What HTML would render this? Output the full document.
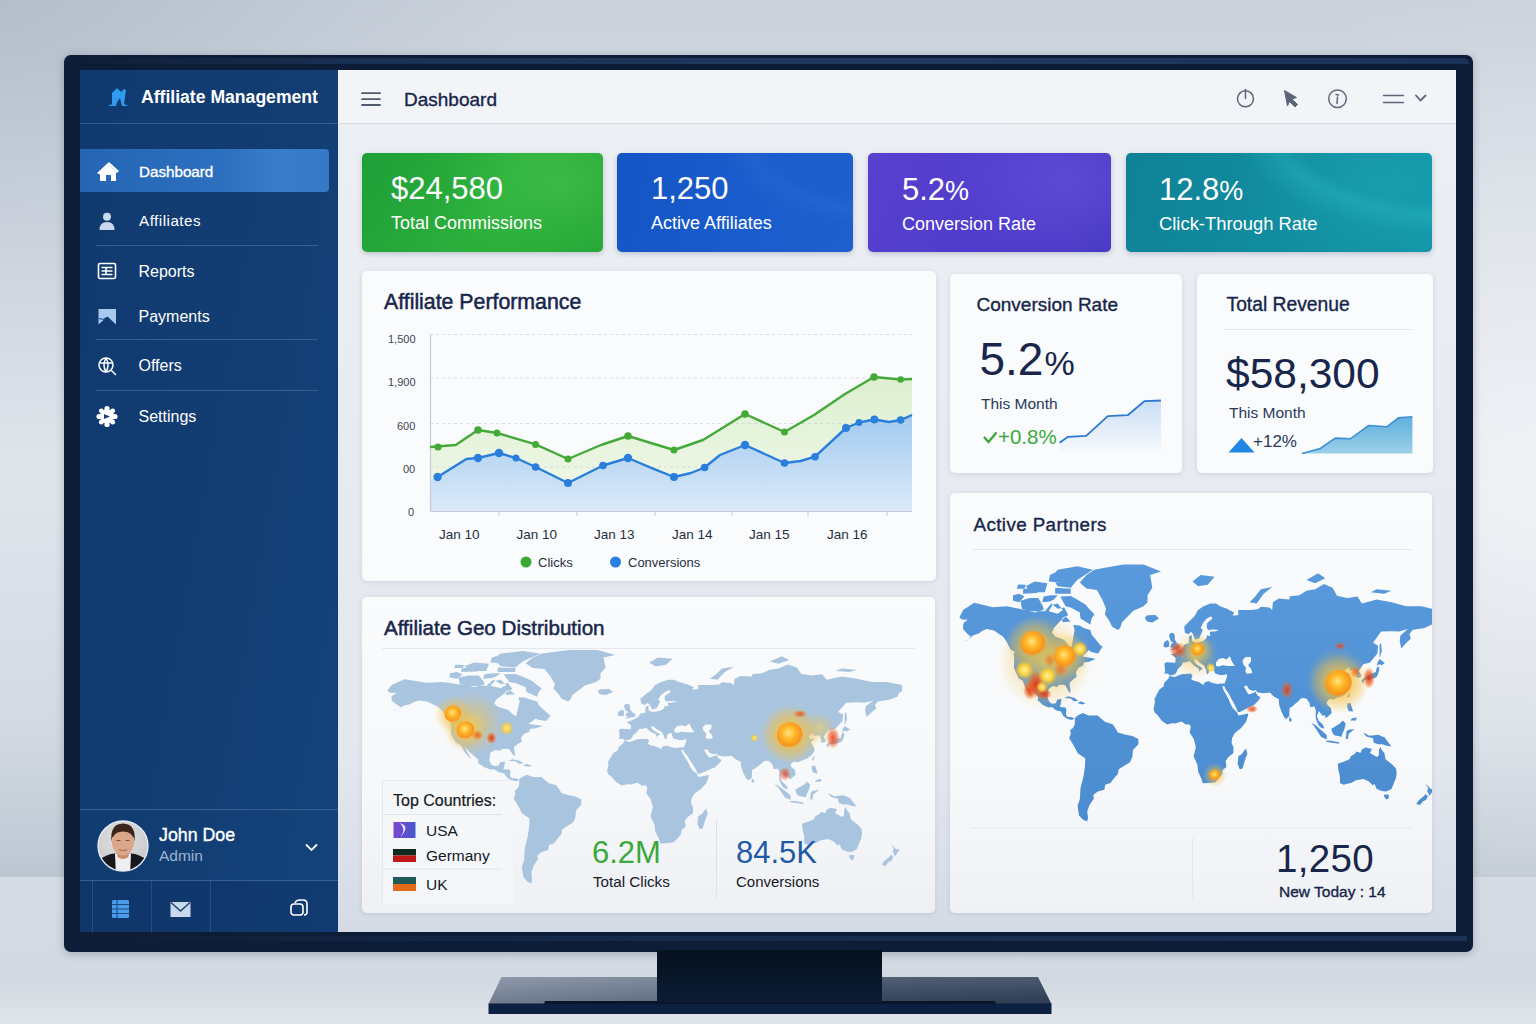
<!DOCTYPE html>
<html><head><meta charset="utf-8">
<style>
*{box-sizing:border-box;margin:0;padding:0}
html,body{width:1536px;height:1024px;overflow:hidden}
body{position:relative;font-family:"Liberation Sans",sans-serif;background-color:#e2e6ec;
background-image:radial-gradient(ellipse 520px 460px at 0 0,rgba(110,130,155,0.24),rgba(110,130,155,0)),
radial-gradient(ellipse 420px 520px at 100% 55%,rgba(255,255,255,0.5),rgba(255,255,255,0)),
linear-gradient(180deg,#c9d1db 0%,#dae0e8 35%,#e0e5ec 55%,#d3dae3 82%,#bdc7d2 100%),
linear-gradient(180deg,#d6dce4 0%,#d4dae2 50%,#d2d9e1 70%,#e0e5ea 100%);
background-size:1536px 877px,1536px 877px,1536px 877px,1536px 147px;background-position:0 0,0 0,0 0,0 877px;background-repeat:no-repeat}
.a{position:absolute}
.t{position:absolute;white-space:nowrap;line-height:1}
.w{color:#fff}
.m{-webkit-text-stroke:0.35px currentColor}
.m2{-webkit-text-stroke:0.5px currentColor}
.sep{position:absolute;height:1px;background:rgba(110,150,205,0.38)}
.card{position:absolute;background:#fafbfc;border-radius:5px;box-shadow:0 1px 5px rgba(40,60,90,0.13)}
.kpi{position:absolute;border-radius:5px;box-shadow:0 2px 5px rgba(30,50,80,0.22);overflow:hidden}
.dk{color:#17264a}
</style></head>
<body>
<!-- monitor -->
<div class="a" style="left:64px;top:55px;width:1409px;height:897px;background:#0d1d38;border-radius:7px;box-shadow:0 2px 8px rgba(20,30,50,0.25)"></div>
<div class="a" style="left:68px;top:58px;width:1401px;height:6px;background:linear-gradient(90deg,#0c1c36 0%,#1d3558 20%,#24406a 60%,#1e3760 100%);border-radius:6px 6px 0 0;opacity:.8"></div>
<div class="a" style="left:70px;top:936px;width:1397px;height:5px;background:linear-gradient(90deg,#0c1c36,#1a3152 40%,#223b62 100%);opacity:.7"></div>
<svg class="a" style="left:0;top:0" width="1536" height="1024" viewBox="0 0 1536 1024">
<defs>
<linearGradient id="baseTop" x1="0" y1="0" x2="1" y2="0"><stop offset="0" stop-color="#7f8ca0"/><stop offset="0.3" stop-color="#6d7b90"/><stop offset="0.7" stop-color="#3a4a63"/><stop offset="1" stop-color="#33435c"/></linearGradient>
<linearGradient id="baseTopV" x1="0" y1="0" x2="0" y2="1"><stop offset="0" stop-color="#fff" stop-opacity="0.12"/><stop offset="1" stop-color="#000" stop-opacity="0.12"/></linearGradient>
<linearGradient id="neck" x1="0" y1="0" x2="0" y2="1"><stop offset="0" stop-color="#06111f"/><stop offset="1" stop-color="#0b1c34"/></linearGradient>
</defs>
<path d="M501.5 977 L1038 977 L1051.5 1004 L488.5 1004 Z" fill="url(#baseTop)"/>
<path d="M501.5 977 L1038 977 L1051.5 1004 L488.5 1004 Z" fill="url(#baseTopV)"/>
<rect x="488.5" y="1003.5" width="563" height="10.5" fill="#0c2142"/>
<path d="M545 1001 H995 L996 1004 H544 Z" fill="#0a1526"/>
<rect x="657" y="950" width="225" height="52" fill="url(#neck)"/>
</svg>
<!-- screen -->
<div class="a" style="left:80px;top:70px;width:1376px;height:862px;background:linear-gradient(180deg,#eceff4 0%,#e8ebf1 40%,#e3e7ee 80%,#d4dbe5 100%)"></div>
<!-- sidebar -->
<div class="a" style="left:80px;top:70px;width:258px;height:862px;background:linear-gradient(100deg,#103a6f 0%,#123d73 50%,#13437a 100%)"></div>
<div class="sep" style="left:80px;top:123px;width:258px;background:rgba(90,130,190,0.45)"></div>
<div class="a" style="left:80px;top:149px;width:249px;height:43px;background:linear-gradient(90deg,#2565b4 0%,#2d6fbf 55%,#3a7dc9 80%,#3579c6 100%);border-radius:0 4px 4px 0"></div>
<div class="sep" style="left:96px;top:245px;width:222px"></div>
<div class="sep" style="left:96px;top:339px;width:222px"></div>
<div class="sep" style="left:96px;top:390px;width:222px"></div>
<div class="sep" style="left:80px;top:809px;width:258px"></div>
<div class="sep" style="left:80px;top:880px;width:258px"></div>
<div class="a" style="left:80px;top:881px;width:258px;height:51px;background:rgba(10,30,70,0.18)"></div>
<div class="a" style="left:92px;top:881px;width:1px;height:51px;background:rgba(110,150,205,0.25)"></div>
<div class="a" style="left:151px;top:881px;width:1px;height:51px;background:rgba(110,150,205,0.25)"></div>
<div class="a" style="left:210px;top:881px;width:1px;height:51px;background:rgba(110,150,205,0.25)"></div>

<!-- header -->
<div class="a" style="left:338px;top:70px;width:1118px;height:54px;background:#f3f4f8;border-bottom:1px solid #d5dae2"></div>

<!-- KPI cards -->
<div class="kpi" style="left:362px;top:153px;width:241px;height:99px;background:radial-gradient(ellipse 120px 90px at 200px 30px,rgba(90,210,90,0.35),rgba(0,0,0,0)),linear-gradient(120deg,#1f9f38 0%,#2cb03c 55%,#23a535 100%)"></div>
<div class="kpi" style="left:617px;top:153px;width:236px;height:99px;background:radial-gradient(ellipse 200px 120px at 260px -20px,rgba(0,0,0,0) 55%,rgba(90,150,240,0.1) 65%,rgba(0,0,0,0) 78%),linear-gradient(100deg,#1555c5 0%,#1a5ccc 55%,#1c60cd 100%)"></div>
<div class="kpi" style="left:868px;top:153px;width:243px;height:99px;background:radial-gradient(ellipse 120px 90px at 200px 30px,rgba(130,110,240,0.3),rgba(0,0,0,0)),linear-gradient(120deg,#5940cf 0%,#4f3ccc 55%,#4637c2 100%)"></div>
<div class="kpi" style="left:1126px;top:153px;width:306px;height:99px;background:radial-gradient(ellipse 300px 150px at 330px -30px,rgba(0,0,0,0) 0%,rgba(0,0,0,0) 55%,rgba(60,210,215,0.2) 62%,rgba(0,0,0,0) 75%),radial-gradient(ellipse 140px 90px at 250px 30px,rgba(40,190,200,0.25),rgba(0,0,0,0)),linear-gradient(100deg,#0f8296 0%,#118c9f 50%,#1396a7 100%)"></div>

<!-- cards -->
<div class="card" style="left:362px;top:271px;width:574px;height:310px"></div>
<div class="card" style="left:950px;top:274px;width:232px;height:199px"></div>
<div class="card" style="left:1197px;top:274px;width:236px;height:199px"></div>
<div class="card" style="left:362px;top:597px;width:573px;height:316px;background:linear-gradient(180deg,#fafbfc 0%,#f7f8fa 60%,#eef0f4 100%)"></div>
<div class="card" style="left:950px;top:493px;width:482px;height:420px;background:linear-gradient(180deg,#fafbfc 0%,#f8f9fb 65%,#eff1f5 100%)"></div>

<svg class="a" style="left:0;top:0" width="1536" height="1024" viewBox="0 0 1536 1024">
<defs>
  <linearGradient id="gBlueArea" x1="0" y1="0" x2="0" y2="1"><stop offset="0" stop-color="#a2caf1"/><stop offset="1" stop-color="#dbeaf9"/></linearGradient>
  <linearGradient id="gGreenArea" x1="0" y1="0" x2="0" y2="1"><stop offset="0" stop-color="#dcefcf"/><stop offset="1" stop-color="#eef7e6"/></linearGradient>
  <linearGradient id="gSpark1" x1="0" y1="0" x2="0" y2="1"><stop offset="0" stop-color="#c9def5"/><stop offset="1" stop-color="#f6f9fd"/></linearGradient>
  <linearGradient id="gSpark2" x1="0" y1="0" x2="0" y2="1"><stop offset="0" stop-color="#5fb0dc"/><stop offset="1" stop-color="#9bd0e8"/></linearGradient>
  <radialGradient id="hot" cx="0.5" cy="0.5" r="0.5"><stop offset="0" stop-color="#ffe36a"/><stop offset="0.45" stop-color="#ffae1f"/><stop offset="0.8" stop-color="#f5820f"/><stop offset="1" stop-color="#f07010" stop-opacity="0"/></radialGradient>
  <radialGradient id="glow" cx="0.5" cy="0.5" r="0.5"><stop offset="0" stop-color="#ffd84a" stop-opacity="0.85"/><stop offset="0.5" stop-color="#f5c040" stop-opacity="0.45"/><stop offset="1" stop-color="#f0c040" stop-opacity="0"/></radialGradient>
  <radialGradient id="redglow" cx="0.5" cy="0.5" r="0.5"><stop offset="0" stop-color="#e42c14" stop-opacity="1"/><stop offset="0.55" stop-color="#ee5a1e" stop-opacity="0.75"/><stop offset="1" stop-color="#f07020" stop-opacity="0"/></radialGradient>
  <radialGradient id="ball" cx="0.45" cy="0.42" r="0.55"><stop offset="0" stop-color="#ffe680"/><stop offset="0.45" stop-color="#ffb728"/><stop offset="0.9" stop-color="#f7921a"/><stop offset="1" stop-color="#f59020" stop-opacity="0.2"/></radialGradient>
  <radialGradient id="yel" cx="0.5" cy="0.5" r="0.5"><stop offset="0" stop-color="#fff2a0"/><stop offset="0.5" stop-color="#ffd23a"/><stop offset="1" stop-color="#f5c030" stop-opacity="0"/></radialGradient>
  <radialGradient id="avBg" cx="0.45" cy="0.35" r="0.7"><stop offset="0" stop-color="#e2e2e4"/><stop offset="1" stop-color="#c6c6c9"/></radialGradient>
  <clipPath id="avClip"><circle cx="123" cy="846" r="25"/></clipPath>
  <filter id="soft" x="-2%" y="-2%" width="104%" height="104%"><feGaussianBlur stdDeviation="0.45"/></filter>
  <clipPath id="pClip"><rect x="951" y="551" width="481" height="276"/></clipPath><clipPath id="gClip"><rect x="363" y="650" width="571" height="262"/></clipPath>
  <linearGradient id="pLand" x1="0" y1="0" x2="0" y2="1" gradientUnits="objectBoundingBox"><stop offset="0" stop-color="#5a9adc"/><stop offset="0.5" stop-color="#5192d6"/><stop offset="1" stop-color="#4c8ccf"/></linearGradient>
</defs>

<!-- ===== sidebar icons ===== -->
<!-- logo -->
<g fill="#2f9bf0">
  <path d="M112 93 L117 88 L121 92 L124 89 L126 90 L124 104 L128 106 L122 106 L120 98 L117 102 L116 106 L108 106 L112 104 Z"/>
</g>
<!-- house -->
<g fill="#fff">
  <path d="M97 173 L109 162 L119 171 L117 173 L109 165.5 L99.5 174.5 Z"/>
  <path d="M100 173 L109 165.5 L116 172 L116 181 L111 181 L111 175 L106 175 L106 181 L100 181 Z"/>
</g>
<!-- person -->
<g fill="#c9d8ee"><circle cx="107" cy="216.8" r="4"/><path d="M99.5 230 Q99.5 222 107 222 Q114.5 222 114.5 230 Z"/></g>
<!-- reports -->
<g fill="none" stroke="#fff" stroke-width="1.6">
  <rect x="98.5" y="263.5" width="17" height="15" rx="1.5"/>
  <path d="M101.5 267.5 H112.5 M101.5 271 H112.5 M101.5 274.5 H112.5 M106 267.5 V274.5"/>
</g>
<!-- payments -->
<g fill="#a9c9ee"><path d="M98.5 309 H116 V324.5 L107.5 316.5 L98.5 324.5 Z"/></g><path d="M99 318.5 Q103 321 106.5 317.5" fill="none" stroke="#123d73" stroke-width="1"/>
<!-- offers globe -->
<g fill="none" stroke="#fff" stroke-width="1.5">
  <circle cx="106" cy="365" r="7"/><path d="M99.5 363 H112.5 M106 358 Q102 365 106 372 M106 358 Q110 365 106 372"/><path d="M111 370 L116 375"/>
</g>
<!-- settings gear -->
<g fill="#fff">
  <circle cx="107" cy="416.5" r="7.2"/>
  <circle cx="107" cy="408.5" r="2.6"/><circle cx="107" cy="424.5" r="2.6"/><circle cx="99" cy="416.5" r="2.6"/><circle cx="115" cy="416.5" r="2.6"/>
  <circle cx="101.3" cy="410.8" r="2.4"/><circle cx="112.7" cy="410.8" r="2.4"/><circle cx="101.3" cy="422.2" r="2.4"/><circle cx="112.7" cy="422.2" r="2.4"/>
  <path d="M104 414 L110 416.5 L104 419 Z" fill="#164381"/>
</g>
<!-- avatar -->
<g clip-path="url(#avClip)">
  <rect x="98" y="821" width="50" height="50" fill="url(#avBg)"/>
  <path d="M97 876 L100 860 Q106 854 115 853.5 L131 853.5 Q140 854 146 860 L150 876 Z" fill="#17181c"/>
  <path d="M115 853.5 L131 853.5 L130 876 L116 876 Z" fill="#eeeff2"/>
  <path d="M117 848 L129 848 L128.5 857 Q123 861 117.5 857 Z" fill="#c98e70"/>
  <ellipse cx="123" cy="842" rx="11" ry="13.5" fill="#dca68a"/>
  <path d="M111.5 842 Q109.5 824 123 823.5 Q136.5 824 134.5 842 Q134 832 123 831.5 Q112 832 111.5 842 Z" fill="#3b2619"/>
  <path d="M116.5 840.5 H120.5 M125.5 840.5 H129.5" stroke="#7a5040" stroke-width="1.2"/>
  <path d="M119 849.5 Q123 851.5 127 849.5" stroke="#a86a55" stroke-width="1.2" fill="none"/>
</g>
<circle cx="123" cy="846" r="25" fill="none" stroke="#e6edf6" stroke-width="1.3"/>
<path d="M306 844.5 L311.5 850 L317 844.5" fill="none" stroke="#fff" stroke-width="1.8"/>
<!-- footer icons -->
<g fill="#4b9de9"><rect x="112" y="900" width="17" height="18" rx="1.5"/></g>
<path d="M112 904.5 H129 M112 909 H129 M112 913.5 H129 M117 900 V918" stroke="#1a4a8a" stroke-width="1.1"/>
<rect x="170.5" y="902" width="20" height="15" fill="#c9d9ec"/>
<path d="M171 902.5 L180.5 911 L190 902.5" fill="none" stroke="#1f3f6f" stroke-width="1.4"/>
<g fill="none" stroke="#fff" stroke-width="1.6"><rect x="291" y="904" width="12" height="11" rx="3"/><path d="M295 903 Q296 900 300 900 L303 900 Q307 900 307 904 L307 912 Q307 915 304 915"/></g>

<!-- ===== header icons ===== -->
<g fill="none" stroke="#4f5a6e" stroke-width="1.8" stroke-linecap="round">
  <path d="M362 93.2 H380 M362 99.1 H380 M362 105 H380"/>
</g>
<g fill="none" stroke="#5d6679" stroke-width="1.5" stroke-linecap="round">
  <circle cx="1245.5" cy="98.8" r="8"/><path d="M1245.5 89.5 V98.5"/>
  <circle cx="1337.5" cy="98.8" r="8.8"/><path d="M1336 94.5 L1338.5 95 M1337.5 97 L1337 103.5"/>
  <path d="M1383.5 95.5 H1403.5 M1383.5 102.5 H1403.5"/>
  <path d="M1416 95.5 L1420.5 100.5 L1425.5 95.5" stroke-width="1.8"/>
</g>
<path d="M1284.5 90.5 L1296.5 97.5 L1292 99 L1297.5 104.5 L1295 107 L1289.5 101.5 L1287.5 106 Z" fill="#5d6679" stroke="#5d6679" stroke-width="1" stroke-linejoin="round"/>

<!-- ===== chart ===== -->
<g>
  <path d="M430 447 L455.7 445 L478 430 L497 433 L535.6 444.4 L568 459 L601 445 L628 436 L674 450 L703 440 L745 414 L784.5 432 L814 415 L845 394 L874 377 L900.6 379.5 L912 379 L912 415 L900.6 420 L889 422 L874.4 419.5 L859 422.5 L846 428 L815 456.7 L800.6 461 L784.5 463 L745 445 L720 455 L704.6 467.5 L691 473 L674 477 L653 468.6 L628 458 L603 465.5 L568 483 L535.6 467 L516 458 L499 453 L478 458 L466.4 459 L437.6 477 L430 480 Z" fill="url(#gGreenArea)"/>
  <path d="M430 480 L437.6 477 L466.4 459 L478 458 L499 453 L516 458 L535.6 467 L568 483 L603 465.5 L628 458 L653 468.6 L674 477 L691 473 L704.6 467.5 L720 455 L745 445 L784.5 463 L800.6 461 L815 456.7 L846 428 L859 422.5 L874.4 419.5 L889 422 L900.6 420 L912 415 L912 511.5 L430 511.5 Z" fill="url(#gBlueArea)"/>
  <path d="M430 334.5 H912 M430 378 H912 M430 423.5 H912 M430 467 H912" stroke="#c9d0da" stroke-opacity="0.7" stroke-width="1" stroke-dasharray="3 3"/>
  <path d="M430.5 334 V511.5 H912" fill="none" stroke="#c5ccd6" stroke-width="1.2"/>
  <path d="M499 512 V516 M577 512 V516 M655 512 V516 M732 512 V516 M808 512 V516 M887 512 V516" stroke="#c5ccd6" stroke-width="1"/>
  <path d="M430 447 L455.7 445 L478 430 L497 433 L535.6 444.4 L568 459 L601 445 L628 436 L674 450 L703 440 L745 414 L784.5 432 L814 415 L845 394 L874 377 L900.6 379.5 L912 379" fill="none" stroke="#45a93a" stroke-width="2.4" stroke-linejoin="round"/>
  <path d="M437.6 477 L466.4 459 L478 458 L499 453 L516 458 L535.6 467 L568 483 L603 465.5 L628 458 L653 468.6 L674 477 L691 473 L704.6 467.5 L720 455 L745 445 L784.5 463 L800.6 461 L815 456.7 L846 428 L859 422.5 L874.4 419.5 L889 422 L900.6 420 L912 415" fill="none" stroke="#2a7fdc" stroke-width="2.4" stroke-linejoin="round"/>
  <g fill="#45a93a"><circle cx="438" cy="447" r="3.6"/><circle cx="478" cy="430" r="3.8"/><circle cx="497" cy="433" r="3.5"/><circle cx="535.6" cy="444.4" r="3.5"/><circle cx="568" cy="459" r="3.5"/><circle cx="628" cy="436" r="3.8"/><circle cx="674" cy="450" r="3.5"/><circle cx="745" cy="414" r="3.8"/><circle cx="784.5" cy="432" r="3.5"/><circle cx="874" cy="377" r="3.8"/><circle cx="900.6" cy="379.5" r="3.3"/></g>
  <g fill="#2a7fdc"><circle cx="437.6" cy="477" r="4.2"/><circle cx="478" cy="458" r="4.2"/><circle cx="499" cy="453" r="4.3"/><circle cx="516" cy="458" r="3.5"/><circle cx="535.6" cy="467" r="3.8"/><circle cx="568" cy="483" r="4"/><circle cx="603" cy="465.5" r="3.8"/><circle cx="628" cy="458" r="4.2"/><circle cx="674" cy="477" r="4"/><circle cx="704.6" cy="467.5" r="3.8"/><circle cx="745" cy="445" r="4.2"/><circle cx="784.5" cy="463" r="3.8"/><circle cx="815" cy="456.7" r="3.8"/><circle cx="846" cy="428" r="4"/><circle cx="859" cy="422.5" r="3.4"/><circle cx="874.4" cy="419.5" r="4"/><circle cx="900.6" cy="420" r="3.8"/></g>
  <circle cx="526" cy="562" r="5.5" fill="#3aaa35"/><circle cx="615.5" cy="562" r="5.5" fill="#2a7fe0"/>
</g>

<!-- ===== small cards ===== -->
<path d="M1224 329.5 H1412" stroke="#e3e7ee" stroke-width="1"/>
<path d="M1059.6 442.7 L1067.9 436.8 L1086.2 435.8 L1107.8 416.2 L1127.7 415.2 L1144.3 401.2 L1160.9 400.5 L1160.9 452 L1059.6 452 Z" fill="url(#gSpark1)"/>
<path d="M1059.6 442.7 L1067.9 436.8 L1086.2 435.8 L1107.8 416.2 L1127.7 415.2 L1144.3 401.2 L1160.9 400.5" fill="none" stroke="#2f78d2" stroke-width="1.8" stroke-linejoin="round"/>
<path d="M984 437 L988.5 442 L996.5 432.5" fill="none" stroke="#3aa83a" stroke-width="2.4"/>
<path d="M1302 453.4 L1320.4 448.4 L1335.3 438.1 L1350.3 438.8 L1368.6 425.5 L1386.8 426.8 L1398.5 417.8 L1412.4 416.8 L1412.4 453.5 Z" fill="url(#gSpark2)"/>
<path d="M1302 453.4 L1320.4 448.4 L1335.3 438.1 L1350.3 438.8 L1368.6 425.5 L1386.8 426.8 L1398.5 417.8 L1412.4 416.8" fill="none" stroke="#3a8fd5" stroke-width="1.6"/>
<path d="M1228.5 452.5 L1254.5 452.5 L1241.5 438 Z" fill="#1f86e6"/>

<!-- ===== partners map ===== -->
<path d="M973 549.5 H1412 M970 828 H1412" stroke="#e3e7ee" stroke-width="1"/>
<path d="M1192.5 838 V900" stroke="#e3e7ee" stroke-width="1"/>
<g clip-path="url(#pClip)"><path fill="url(#pLand)" filter="url(#soft)" d="M959.4,617.5 963.1,610.0 974.2,602.7 992.9,607.2 1006.7,606.2 1019.3,608.8 1032.0,611.3 1044.9,611.3 1051.3,603.5 1057.7,608.8 1064.2,607.5 1068.1,615.0 1060.3,621.0 1053.9,627.9 1051.9,632.7 1055.2,636.5 1064.2,640.0 1068.1,644.9 1071.4,647.6 1072.7,640.6 1074.6,630.1 1073.3,624.9 1079.8,625.6 1083.8,627.9 1090.3,630.1 1091.6,634.4 1094.9,638.6 1100.8,645.7 1102.6,646.6 1098.2,653.4 1091.0,651.9 1089.0,650.1 1082.4,656.5 1091.6,658.0 1095.6,658.9 1089.0,661.7 1083.8,662.6 1083.1,665.6 1078.5,667.8 1075.9,672.1 1076.6,676.9 1073.3,679.2 1069.4,683.0 1070.4,690.2 1070.1,693.0 1068.4,691.0 1067.1,688.6 1065.5,685.4 1062.9,684.7 1058.4,685.1 1057.7,687.0 1052.6,686.0 1048.3,689.4 1048.1,694.1 1047.7,698.0 1049.4,702.1 1051.9,703.8 1055.8,703.3 1057.2,699.5 1061.6,698.7 1060.8,704.1 1059.9,707.1 1065.5,707.4 1066.4,709.4 1065.9,714.6 1067.5,716.9 1071.4,716.9 1074.1,718.2 1072.7,719.8 1070.1,719.8 1066.8,718.6 1063.3,716.1 1061.0,711.6 1055.9,710.3 1051.9,707.1 1048.7,707.4 1042.9,704.9 1037.8,700.3 1038.1,696.7 1034.0,692.5 1029.2,687.0 1026.1,683.0 1028.9,689.4 1032.0,696.4 1029.5,693.6 1026.3,688.9 1023.5,683.0 1022.9,681.0 1018.6,678.0 1016.2,673.0 1014.0,667.8 1014.3,658.0 1013.5,653.6 1015.5,652.4 1010.5,649.6 1006.7,641.7 1002.9,636.5 997.9,633.3 994.1,630.5 986.6,629.0 981.6,631.2 979.2,633.3 973.0,635.4 966.8,640.6 963.7,641.7 971.7,637.5 966.8,633.3 963.1,629.0 963.1,624.5 964.3,622.2 968.0,619.8 961.9,619.6ZM1023.1,593.8 1037.2,592.9 1038.4,589.3 1029.5,587.5 1023.1,589.3ZM1042.3,602.2 1050.0,601.4 1053.9,599.4 1057.7,595.2 1051.3,595.2 1043.6,596.6ZM1048.7,581.6 1060.3,582.6 1062.9,576.7 1055.2,572.6 1050.0,575.0ZM1016.8,588.7 1024.4,588.7 1025.7,584.8 1018.1,584.4ZM1048.7,611.3 1057.7,613.8 1062.9,610.0 1057.7,603.5 1052.6,604.8ZM1091.6,618.6 1094.5,614.3 1089.0,608.8 1085.7,604.8 1077.2,599.4 1070.7,596.1 1060.3,596.6 1065.5,606.2 1070.7,607.5 1079.8,612.6 1080.5,618.6 1090.3,624.5ZM1021.9,608.8 1034.6,612.6 1043.6,610.0 1042.9,606.2 1038.4,598.0 1029.5,598.0 1020.6,600.8ZM1070.7,587.8 1077.2,580.0 1092.9,569.8 1077.2,566.2 1057.7,569.8 1051.3,576.7 1057.7,586.3ZM1013.0,600.8 1019.3,602.2 1024.4,596.6 1019.3,593.8 1013.0,595.2ZM1055.2,593.8 1070.7,593.8 1070.7,588.7 1055.2,587.8ZM1032.0,592.3 1044.9,592.3 1047.4,583.2 1034.6,581.6 1025.7,586.3ZM1062.9,622.2 1070.7,621.5 1065.5,616.2 1061.6,618.6ZM1079.8,582.6 1086.4,588.4 1096.9,589.9 1102.2,599.4 1106.1,608.8 1104.8,614.3 1109.4,621.0 1112.1,626.7 1118.1,630.1 1120.1,627.9 1122.1,622.2 1126.7,617.5 1133.4,610.8 1143.5,606.2 1147.5,602.2 1147.5,595.2 1152.3,587.8 1150.2,575.0 1161.1,571.6 1143.5,564.4 1123.4,564.4 1103.5,568.0 1094.3,569.8 1086.4,575.0ZM1144.8,617.5 1147.5,615.3 1155.6,615.0 1159.0,618.6 1152.3,622.4 1146.9,621.5ZM1164.4,673.8 1165.1,670.4 1164.4,663.4 1166.5,662.2 1175.3,662.7 1175.7,658.0 1171.2,654.3 1175.3,653.0 1179.4,650.5 1182.9,648.0 1184.2,644.7 1189.0,643.3 1189.0,636.5 1191.8,635.0 1191.8,640.6 1193.8,642.1 1196.6,642.7 1202.8,641.3 1206.3,638.6 1206.9,635.4 1210.4,635.9 1209.7,631.8 1216.0,631.2 1218.7,630.1 1213.2,629.4 1208.3,630.1 1206.8,627.9 1206.9,623.3 1212.5,618.6 1211.1,616.2 1206.9,618.6 1203.5,622.2 1200.7,627.9 1202.8,630.1 1200.0,636.5 1199.4,638.2 1195.2,639.8 1192.5,633.3 1191.1,631.8 1188.3,634.2 1184.9,632.7 1184.2,626.7 1188.3,622.2 1194.5,616.2 1198.0,610.0 1203.5,606.2 1210.4,603.5 1216.0,603.5 1220.1,606.2 1227.1,608.8 1234.1,612.6 1232.7,615.8 1238.3,615.0 1238.3,610.0 1250.9,610.0 1258.0,609.3 1260.8,606.7 1269.3,607.5 1272.2,610.0 1272.9,602.2 1278.6,598.6 1289.3,599.4 1290.0,596.3 1299.3,595.2 1306.5,590.8 1315.2,589.3 1323.9,584.1 1332.6,587.8 1337.0,595.8 1347.2,598.0 1357.5,596.6 1361.9,603.5 1376.7,599.4 1391.5,602.2 1406.4,606.2 1421.4,606.2 1436.5,610.0 1436.5,617.5 1433.5,619.8 1432.0,624.5 1424.4,627.9 1412.4,630.1 1409.4,634.4 1410.9,638.6 1406.4,642.7 1401.2,648.6 1399.7,640.6 1400.4,635.4 1407.9,629.0 1399.0,631.6 1391.5,631.2 1381.1,631.6 1373.0,642.7 1378.1,645.7 1377.4,653.4 1370.0,662.6 1363.4,664.2 1361.2,667.3 1358.9,671.3 1361.2,675.5 1360.4,677.2 1356.7,678.0 1356.3,673.8 1354.5,669.6 1349.4,670.4 1349.4,667.3 1344.3,670.4 1345.7,673.8 1350.9,673.2 1347.9,675.5 1346.5,678.0 1348.7,682.1 1350.1,685.4 1349.4,688.6 1346.5,692.5 1342.8,695.7 1338.4,697.5 1333.3,699.5 1329.7,698.7 1327.5,701.0 1326.5,702.6 1327.5,704.9 1330.9,707.9 1331.6,713.1 1327.5,716.9 1325.3,718.0 1325.3,715.4 1322.4,715.4 1318.8,710.9 1318.1,713.1 1316.9,716.1 1318.5,720.6 1323.2,725.0 1324.2,728.7 1320.3,727.2 1318.5,725.0 1315.9,719.1 1315.6,714.6 1315.9,710.9 1314.6,706.4 1310.1,707.1 1309.4,702.6 1306.5,698.7 1303.6,698.0 1300.8,698.6 1298.6,701.0 1295.0,704.1 1292.2,706.4 1289.6,707.9 1289.3,716.1 1286.4,718.9 1284.3,717.6 1281.4,711.6 1279.3,705.6 1278.7,699.1 1275.0,697.2 1272.9,695.7 1270.0,692.5 1263.0,693.2 1257.3,692.2 1255.9,690.2 1252.4,690.8 1248.8,688.9 1246.7,685.4 1243.9,686.2 1246.7,691.7 1248.8,694.6 1254.5,692.5 1255.6,691.4 1257.3,695.2 1260.5,697.2 1258.7,700.3 1253.8,705.3 1249.5,707.1 1243.9,710.1 1239.7,711.9 1237.6,712.1 1236.6,708.6 1232.7,701.0 1231.3,698.7 1228.5,693.3 1225.1,688.4 1224.6,683.4 1225.7,680.5 1227.1,676.4 1227.1,674.2 1221.5,675.2 1218.0,674.4 1215.0,673.3 1213.6,669.6 1213.9,667.8 1213.2,667.3 1210.4,667.5 1209.0,669.6 1208.7,673.0 1206.9,674.2 1206.3,670.4 1204.2,665.7 1199.4,662.6 1196.2,659.3 1194.3,659.1 1194.5,661.7 1196.6,664.3 1199.4,666.3 1202.8,668.5 1200.0,670.4 1199.4,672.1 1198.9,668.7 1196.6,667.3 1193.8,665.6 1191.8,663.4 1189.7,660.9 1187.0,662.2 1182.9,662.6 1181.8,665.2 1177.4,669.6 1176.7,672.1 1174.7,674.4 1169.9,675.5 1167.8,673.5ZM1169.5,675.9 1174.7,677.0 1181.5,674.2 1191.1,673.5 1192.5,676.4 1191.1,678.9 1193.2,680.5 1198.7,682.1 1203.5,684.9 1204.9,682.1 1209.0,681.2 1211.8,682.8 1217.3,683.9 1221.5,683.4 1224.6,683.4 1225.0,687.0 1222.2,685.7 1223.6,690.2 1226.4,694.9 1228.8,699.5 1230.6,704.1 1232.7,707.9 1237.2,712.4 1238.3,715.4 1248.1,713.4 1248.1,715.5 1246.0,722.0 1241.1,727.9 1234.8,733.1 1232.0,738.3 1231.6,742.7 1233.4,747.2 1233.4,753.1 1228.5,756.9 1225.7,760.7 1226.4,766.9 1222.6,770.1 1222.2,774.0 1218.7,778.6 1215.3,782.2 1208.3,783.0 1202.8,783.3 1201.8,779.7 1198.2,771.7 1197.3,764.6 1193.6,756.2 1195.9,747.2 1193.8,739.0 1189.7,732.4 1190.8,726.5 1189.0,724.2 1185.6,724.5 1181.5,721.6 1175.3,723.5 1171.9,723.2 1167.2,724.4 1161.7,720.7 1159.0,716.9 1157.0,714.6 1154.6,712.4 1153.6,709.1 1155.0,701.8 1154.3,699.5 1157.0,694.1 1159.4,689.4 1163.8,686.2 1164.0,683.0 1168.1,678.9ZM1246.0,748.6 1247.4,753.9 1246.0,756.9 1243.9,763.8 1242.5,768.5 1239.7,769.3 1237.6,763.8 1238.3,756.2 1241.8,753.9 1243.9,750.9ZM1169.6,650.5 1179.3,648.2 1179.7,645.3 1177.4,643.7 1175.3,640.6 1174.7,638.6 1174.9,635.4 1173.3,633.1 1170.6,633.1 1168.9,635.4 1169.9,638.6 1170.6,641.0 1173.3,642.7 1171.2,644.1 1170.3,647.2 1173.3,647.8ZM1169.2,646.6 1169.2,641.7 1167.2,640.0 1163.8,642.7 1163.5,647.0 1166.5,647.6ZM1363.1,683.8 1364.1,679.7 1369.3,679.7 1376.4,677.2 1377.8,674.7 1379.3,669.6 1378.6,666.3 1376.7,667.8 1375.9,672.1 1371.5,673.8 1366.3,676.4 1363.2,678.9 1361.4,680.2ZM1376.7,666.1 1378.9,664.3 1381.8,665.2 1384.8,662.9 1379.6,658.9 1377.4,662.9ZM1289.3,716.4 1291.9,719.8 1290.7,722.0 1289.0,720.6ZM1347.5,696.4 1348.7,698.1 1350.1,693.3 1349.4,692.8ZM1347.2,703.3 1350.6,703.3 1353.1,711.6 1348.7,710.9 1347.2,707.1ZM1350.1,720.6 1356.0,720.6 1356.7,717.6 1352.3,718.3ZM1311.3,722.6 1315.2,725.0 1323.9,732.4 1326.8,735.3 1326.5,739.4 1321.0,736.8 1315.9,728.7ZM1325.6,740.9 1329.7,740.5 1339.2,742.2 1339.2,743.7 1326.8,741.9ZM1331.2,728.7 1334.1,727.2 1339.9,723.5 1342.8,720.6 1345.7,723.5 1344.3,729.4 1342.1,734.6 1341.4,736.8 1334.1,735.3 1332.6,733.1ZM1345.7,739.0 1347.9,739.0 1348.7,733.8 1354.5,729.0 1347.9,730.1 1346.5,731.6ZM1363.4,732.4 1369.3,735.7 1378.1,734.7 1384.8,737.5 1388.5,742.7 1391.5,746.4 1387.0,745.7 1381.8,744.2 1378.1,744.2 1373.7,742.7 1373.0,738.3 1367.0,736.8 1364.8,735.0ZM1337.7,763.8 1338.4,770.1 1339.9,776.5 1339.9,783.0 1343.5,784.7 1351.6,782.7 1356.0,780.2 1363.4,778.9 1368.5,781.3 1373.0,785.5 1374.4,783.8 1376.7,788.9 1381.8,791.1 1386.3,791.5 1391.5,788.9 1396.0,778.1 1396.7,773.2 1396.0,768.5 1392.2,764.6 1385.6,759.2 1384.4,753.1 1381.8,750.1 1380.4,746.9 1378.9,750.1 1378.9,755.4 1376.7,756.9 1373.0,754.7 1370.0,753.1 1371.9,748.9 1365.6,747.6 1361.9,749.4 1360.4,753.1 1356.7,751.6 1354.5,753.9 1350.9,756.2 1349.4,759.2 1344.3,761.5 1338.4,763.5ZM1384.1,794.6 1389.0,794.8 1388.5,798.5 1386.3,799.6 1384.1,796.7ZM1425.5,783.8 1428.2,786.3 1430.5,788.9 1434.3,789.2 1432.0,792.3 1429.0,795.8 1428.2,792.8 1427.2,791.8 1428.2,788.0ZM1425.5,794.1 1427.9,796.2 1426.0,799.9 1422.9,801.2 1419.9,805.0 1416.2,803.9 1418.9,800.3 1423.7,796.3ZM1064.2,698.1 1068.1,696.3 1074.6,698.0 1078.3,700.7 1074.0,701.2 1070.7,698.6ZM1077.9,703.3 1080.1,701.2 1085.7,703.2 1082.4,704.6ZM1249.5,602.2 1255.2,596.6 1260.8,589.3 1272.2,586.9 1263.7,593.8 1256.6,603.5ZM1192.5,581.6 1200.7,575.0 1214.6,576.7 1207.6,584.8 1198.0,586.3ZM1379.6,658.0 1381.8,651.5 1381.1,642.7 1379.6,644.7 1379.6,654.3ZM1306.5,580.0 1318.1,573.3 1325.3,578.3 1315.2,583.2ZM1370.7,592.3 1376.7,589.3 1391.5,590.8 1384.1,593.8ZM1074.7,718.2 1077.6,715.4 1082.8,713.1 1088.7,715.4 1097.7,715.4 1100.7,718.3 1105.2,722.0 1112.7,724.2 1115.7,728.7 1117.9,732.4 1124.7,734.6 1132.3,736.0 1138.4,739.0 1138.4,744.2 1133.0,750.1 1132.3,756.9 1130.0,762.3 1124.7,765.4 1118.7,769.3 1117.9,774.0 1114.2,778.1 1110.4,783.0 1105.2,784.7 1104.4,789.7 1097.7,791.5 1093.2,794.9 1093.9,798.5 1089.5,804.9 1087.2,811.5 1088.0,817.4 1087.2,821.4 1082.8,819.4 1079.0,815.4 1077.6,805.8 1079.8,799.4 1080.5,788.0 1083.5,776.5 1085.0,766.2 1085.3,758.4 1077.6,753.1 1075.3,748.6 1071.6,741.9 1069.1,738.3 1070.9,733.8 1070.1,730.1 1072.7,728.2 1074.6,725.0 1074.9,720.6Z"/><path fill="#fafbfc" d="M1242.5,660.8 1245.3,657.1 1250.9,657.1 1250.9,661.7 1248.1,665.2 1250.9,668.7 1252.4,673.0 1246.7,673.8 1245.3,671.3 1246.0,667.8 1243.2,664.3ZM1216.0,666.1 1216.0,662.6 1218.7,658.9 1222.9,658.0 1226.4,659.5 1229.9,656.2 1232.0,661.7 1234.8,666.1 1227.1,666.1 1222.9,665.2 1218.7,666.6Z"/><circle cx="1045" cy="662" r="48" fill="url(#glow)" opacity="0.8"/><ellipse cx="1030" cy="690" rx="7" ry="10" fill="url(#redglow)" opacity="0.9"/><ellipse cx="1050" cy="660" rx="6" ry="7" fill="url(#redglow)" opacity="0.7"/><circle cx="1195" cy="655" r="24" fill="url(#glow)" opacity="0.7"/><circle cx="1338" cy="680" r="32" fill="url(#glow)" opacity="0.8"/><ellipse cx="1036" cy="684" rx="9" ry="14" fill="url(#redglow)" opacity="0.9"/><ellipse cx="1061" cy="668" rx="7" ry="9" fill="url(#redglow)" opacity="0.8"/><ellipse cx="1044" cy="694" rx="8" ry="6" fill="url(#redglow)" opacity="0.9"/><ellipse cx="1178" cy="650" rx="9" ry="8" fill="url(#redglow)" opacity="0.8"/><ellipse cx="1369" cy="678" rx="6" ry="11" fill="url(#redglow)" opacity="0.9"/><ellipse cx="1355" cy="672" rx="5" ry="6" fill="url(#redglow)" opacity="0.8"/><ellipse cx="1287" cy="690" rx="6" ry="9" fill="url(#redglow)" opacity="0.8"/><ellipse cx="1252" cy="709" rx="6" ry="4" fill="url(#redglow)" opacity="0.8"/><ellipse cx="1340" cy="646" rx="6" ry="4" fill="url(#redglow)" opacity="0.7"/><circle cx="1033" cy="643.6" r="27.5" fill="url(#glow)"/><circle cx="1033" cy="643.6" r="12.5" fill="url(#ball)"/><circle cx="1065" cy="656.5" r="24.2" fill="url(#glow)"/><circle cx="1065" cy="656.5" r="11" fill="url(#ball)"/><circle cx="1080" cy="649" r="8" fill="url(#yel)" opacity="1"/><circle cx="1024.3" cy="670" r="9.5" fill="url(#yel)" opacity="1"/><circle cx="1047.6" cy="675.8" r="9.5" fill="url(#yel)" opacity="1"/><circle cx="1042" cy="687" r="6" fill="url(#yel)" opacity="0.9"/><circle cx="1197.8" cy="649.6" r="14.3" fill="url(#glow)"/><circle cx="1197.8" cy="649.6" r="6.5" fill="url(#ball)"/><circle cx="1210.7" cy="667.6" r="5" fill="url(#yel)" opacity="0.9"/><circle cx="1338.8" cy="683.5" r="29.7" fill="url(#glow)"/><circle cx="1338.8" cy="683.5" r="13.5" fill="url(#ball)"/><circle cx="1215" cy="775" r="12.1" fill="url(#glow)"/><circle cx="1215" cy="775" r="5.5" fill="url(#ball)"/></g>

<!-- ===== geo map ===== -->
<path d="M382 648.5 H915" stroke="#e3e7ee" stroke-width="1"/>
<g clip-path="url(#gClip)"><path fill="#a9c4df" filter="url(#soft)" d="M387.2,691.0 391.6,685.0 404.6,679.2 426.4,682.7 442.4,681.9 456.9,684.0 471.5,686.0 486.1,686.0 493.4,679.8 500.7,684.0 508.0,683.0 512.4,689.1 503.6,693.9 496.3,699.6 494.1,703.6 497.7,706.8 508.0,709.8 512.4,713.9 516.0,716.2 517.5,710.3 519.7,701.4 518.2,697.2 525.5,697.7 529.9,699.6 537.3,701.4 538.7,705.0 542.4,708.6 549.0,714.5 550.9,715.4 546.1,721.1 538.0,719.8 535.8,718.4 528.5,723.9 538.7,725.2 543.1,725.9 535.8,728.3 529.9,729.1 529.2,731.7 524.1,733.7 521.1,737.5 521.9,741.7 518.2,743.8 513.8,747.1 515.0,753.7 514.6,756.2 512.7,754.4 511.2,752.2 509.4,749.3 506.5,748.7 501.4,749.0 500.7,750.8 494.8,749.9 490.0,752.9 489.7,757.2 489.3,760.8 491.2,764.6 494.1,766.1 498.5,765.7 500.1,762.2 505.0,761.5 504.2,766.4 503.1,769.2 509.4,769.5 510.5,771.3 509.9,776.2 511.6,778.3 516.0,778.3 519.1,779.5 517.5,781.1 514.6,781.1 510.9,780.0 506.9,777.6 504.3,773.4 498.6,772.1 494.1,769.2 490.4,769.5 483.9,767.1 478.0,762.9 478.3,759.6 473.7,755.8 468.3,750.8 464.6,747.1 467.8,752.9 471.5,759.4 468.6,756.8 464.9,752.5 461.7,747.1 461.0,745.4 456.0,742.7 453.3,738.3 450.8,733.7 451.1,725.2 450.2,721.3 452.5,720.3 446.7,717.9 442.4,711.1 438.0,706.8 432.2,704.1 427.8,701.8 419.1,700.5 413.3,702.3 410.4,704.1 403.2,705.9 395.9,710.3 392.3,711.1 401.7,707.7 395.9,704.1 391.6,700.5 391.6,696.8 393.0,694.9 397.4,693.0 390.1,692.8ZM461.3,672.1 477.3,671.4 478.8,668.6 468.6,667.2 461.3,668.6ZM483.1,678.7 491.9,678.1 496.3,676.5 500.7,673.2 493.4,673.2 484.6,674.3ZM490.4,662.6 503.6,663.3 506.5,658.8 497.7,655.7 491.9,657.6ZM454.0,668.1 462.7,668.1 464.2,665.1 455.5,664.8ZM490.4,686.0 500.7,688.1 506.5,685.0 500.7,679.8 494.8,680.9ZM538.7,692.0 541.9,688.5 535.8,684.0 532.1,680.9 522.6,676.5 515.3,673.9 503.6,674.3 509.4,681.9 515.3,683.0 525.5,687.1 526.3,692.0 537.3,696.8ZM459.8,684.0 474.4,687.1 484.6,685.0 483.9,681.9 478.8,675.4 468.6,675.4 458.4,677.6ZM515.3,667.4 522.6,661.4 540.2,653.6 522.6,650.9 500.7,653.6 493.4,658.8 500.7,666.3ZM449.6,677.6 456.9,678.7 462.7,674.3 456.9,672.1 449.6,673.2ZM497.7,672.1 515.3,672.1 515.3,668.1 497.7,667.4ZM471.5,670.9 486.1,670.9 489.0,663.8 474.4,662.6 464.2,666.3ZM506.5,694.9 515.3,694.3 509.4,690.1 505.0,692.0ZM525.5,663.3 532.9,667.9 544.6,669.1 550.5,676.5 554.9,684.0 553.4,688.5 558.5,693.9 561.5,698.7 568.1,701.4 570.3,699.6 572.5,694.9 577.6,691.0 585.0,685.6 596.0,681.9 600.5,678.7 600.5,673.2 605.6,667.4 603.4,657.6 615.2,654.9 596.0,649.5 574.0,649.5 551.9,652.3 541.7,653.6 532.9,657.6ZM597.5,691.0 600.5,689.3 609.3,689.1 613.0,692.0 605.6,695.1 599.7,694.3ZM519.1,779.5 521.9,776.9 527.0,774.8 532.9,776.9 541.7,776.9 544.6,779.7 549.0,783.2 556.3,785.3 559.3,789.5 561.5,793.0 568.1,795.1 575.4,796.6 581.3,799.4 581.3,804.4 576.2,810.3 575.4,817.0 573.2,822.3 568.1,825.4 562.2,829.3 561.5,834.1 557.8,838.2 554.1,843.2 549.0,844.9 548.3,850.1 541.7,851.9 537.3,855.5 538.0,859.2 533.6,865.8 531.4,872.8 532.1,879.0 531.4,883.4 527.0,881.2 523.3,876.9 521.9,866.8 524.1,860.1 524.8,848.3 527.7,836.5 529.2,826.1 529.5,818.5 521.9,813.2 519.7,808.8 516.0,802.3 513.5,798.7 515.3,794.4 514.6,790.9 517.0,789.1 518.9,786.0 519.2,781.8ZM618.9,739.0 619.6,736.0 618.9,729.9 621.1,728.8 630.7,729.2 631.2,725.2 626.3,722.0 630.7,720.8 635.2,718.7 638.9,716.5 640.3,713.7 645.5,712.5 645.5,706.8 648.5,705.6 648.5,710.3 650.7,711.5 653.7,712.0 660.3,710.8 664.0,708.6 664.8,705.9 668.5,706.3 667.7,702.9 674.4,702.3 677.4,701.4 671.4,700.9 666.2,701.4 664.6,699.6 664.8,695.9 670.7,692.0 669.2,690.1 664.8,692.0 661.1,694.9 658.1,699.6 660.3,701.4 657.4,706.8 656.6,708.2 652.2,709.6 649.2,704.1 647.7,702.9 644.8,704.9 641.1,703.6 640.3,698.7 644.8,694.9 651.4,690.1 655.1,685.0 661.1,681.9 668.5,679.8 674.4,679.8 678.9,681.9 686.3,684.0 693.7,687.1 692.2,689.7 698.2,689.1 698.2,685.0 711.5,685.0 719.0,684.4 722.0,682.3 730.9,683.0 733.9,685.0 734.6,678.7 740.6,675.9 751.8,676.5 752.5,674.1 762.3,673.2 769.7,669.8 778.7,668.6 787.7,664.6 796.7,667.4 801.2,673.7 811.7,675.4 822.2,674.3 826.7,679.8 841.7,676.5 856.8,678.7 871.9,681.9 886.9,681.9 902.1,685.0 902.1,691.0 899.0,693.0 897.5,696.8 890.0,699.6 877.9,701.4 874.9,705.0 876.4,708.6 871.9,712.0 866.6,717.0 865.1,710.3 865.8,705.9 873.4,700.5 864.3,702.7 856.8,702.3 846.2,702.7 838.0,712.0 843.2,714.5 842.5,721.1 835.0,729.1 828.2,730.5 825.9,733.3 823.7,736.8 825.9,740.5 825.2,742.0 821.4,742.7 821.0,739.0 819.2,735.2 813.9,736.0 813.9,733.3 808.7,736.0 810.2,739.0 815.4,738.4 812.4,740.5 810.9,742.7 813.2,746.4 814.7,749.3 813.9,752.2 810.9,755.8 807.2,758.6 802.7,760.3 797.4,762.2 793.7,761.5 791.4,763.6 790.4,765.0 791.4,767.1 794.9,769.9 795.6,774.8 791.4,778.3 789.2,779.4 789.2,776.9 786.2,776.9 782.4,772.7 781.7,774.8 780.5,777.6 782.1,781.8 786.9,786.0 788.0,789.5 783.9,788.1 782.1,786.0 779.5,780.4 779.2,776.2 779.5,772.7 778.1,768.5 773.5,769.2 772.7,765.0 769.7,761.5 766.7,760.8 763.7,761.3 761.5,763.6 757.8,766.4 754.8,768.5 752.1,769.9 751.8,777.6 748.8,780.2 746.6,779.0 743.6,773.4 741.3,767.8 740.8,761.8 736.9,760.1 734.6,758.6 731.7,755.8 724.2,756.4 718.2,755.5 716.8,753.7 713.0,754.2 709.3,752.5 707.1,749.3 704.1,750.1 707.1,755.1 709.3,757.6 715.3,755.8 716.5,754.8 718.2,758.2 721.7,760.1 719.7,762.9 714.5,767.5 710.1,769.2 704.1,772.0 699.6,773.7 697.4,773.8 696.4,770.6 692.2,763.6 690.7,761.5 687.8,756.5 684.2,752.1 683.6,747.6 684.8,745.0 686.3,741.3 686.3,739.3 680.3,740.2 676.6,739.5 673.4,738.6 671.9,735.2 672.2,733.7 671.4,733.3 668.5,733.4 667.0,735.2 666.7,738.3 664.8,739.3 664.0,736.0 661.8,731.9 656.6,729.1 653.2,726.3 651.1,726.1 651.4,728.3 653.7,730.6 656.6,732.3 660.3,734.3 657.4,736.0 656.6,737.5 656.2,734.5 653.7,733.3 650.7,731.7 648.5,729.9 646.3,727.7 643.3,728.8 638.9,729.1 637.7,731.4 632.9,735.2 632.2,737.5 630.0,739.5 624.8,740.5 622.6,738.7ZM624.4,740.8 630.0,741.9 637.4,739.3 647.7,738.7 649.2,741.3 647.7,743.5 650.0,745.0 655.9,746.4 661.1,748.9 662.5,746.4 667.0,745.5 670.0,747.0 675.9,748.0 680.3,747.6 683.6,747.6 684.0,750.8 681.1,749.6 682.6,753.7 685.5,757.9 688.1,762.2 690.0,766.4 692.2,769.9 697.0,774.1 698.2,776.9 708.6,775.1 708.6,777.0 706.3,783.2 701.1,788.8 694.4,793.7 691.5,798.7 691.0,803.0 693.0,807.3 693.0,813.2 687.8,817.0 684.8,820.7 685.5,826.9 681.5,830.1 681.1,834.1 677.4,838.7 673.7,842.3 666.2,843.2 660.3,843.5 659.3,839.8 655.4,831.7 654.4,824.6 650.4,816.2 652.9,807.3 650.7,799.4 646.3,793.0 647.4,787.4 645.5,785.3 641.8,785.6 637.4,782.8 630.7,784.6 627.0,784.3 621.9,785.4 616.0,781.9 613.0,778.3 610.8,776.2 608.1,774.1 607.1,771.0 608.6,764.3 607.8,762.2 610.8,757.2 613.4,752.9 618.2,750.1 618.5,747.1 622.9,743.5ZM706.3,808.8 707.8,814.0 706.3,817.0 704.1,823.8 702.6,828.5 699.6,829.3 697.4,823.8 698.2,816.2 701.9,814.0 704.1,811.0ZM624.5,718.7 635.0,716.7 635.5,714.2 632.9,712.8 630.7,710.3 630.0,708.6 630.3,705.9 628.5,704.0 625.6,704.0 623.8,705.9 624.8,708.6 625.6,710.6 628.5,712.0 626.3,713.2 625.3,715.9 628.5,716.4ZM624.1,715.4 624.1,711.1 621.9,709.8 618.2,712.0 617.9,715.7 621.1,716.2ZM827.9,747.9 828.9,744.2 834.2,744.2 841.4,742.0 842.9,739.8 844.4,735.2 843.7,732.3 841.7,733.7 841.0,737.5 836.5,739.0 831.2,741.3 828.0,743.5 826.2,744.7ZM841.7,732.2 844.0,730.6 847.0,731.4 850.0,729.4 844.7,725.9 842.5,729.4ZM751.8,777.9 754.5,781.1 753.3,783.2 751.5,781.8ZM812.0,759.4 813.2,760.9 814.7,756.5 813.9,756.1ZM811.7,765.7 815.1,765.7 817.7,773.4 813.2,772.7 811.7,769.2ZM814.7,781.8 820.7,781.8 821.4,779.0 816.9,779.7ZM774.7,783.7 778.7,786.0 787.7,793.0 790.7,795.8 790.4,799.8 784.7,797.3 779.5,789.5ZM789.5,801.3 793.7,800.8 803.4,802.6 803.4,804.0 790.7,802.3ZM795.2,789.5 798.2,788.1 804.2,784.6 807.2,781.8 810.2,784.6 808.7,790.2 806.4,795.1 805.7,797.3 798.2,795.8 796.7,793.7ZM810.2,799.4 812.4,799.4 813.2,794.4 819.2,789.8 812.4,790.9 810.9,792.3ZM828.2,793.0 834.2,796.3 843.2,795.3 850.0,798.0 853.8,803.0 856.8,806.6 852.3,805.9 847.0,804.4 843.2,804.4 838.7,803.0 838.0,798.7 832.0,797.3 829.7,795.6ZM801.9,823.8 802.7,830.1 804.2,836.5 804.2,843.2 807.9,844.9 816.2,842.8 820.7,840.3 828.2,839.0 833.5,841.5 838.0,845.7 839.5,844.0 841.7,849.2 847.0,851.5 851.5,851.9 856.8,849.2 861.3,838.2 862.1,833.3 861.3,828.5 857.5,824.6 850.8,819.2 849.6,813.2 847.0,810.3 845.5,807.0 844.0,810.3 844.0,815.5 841.7,817.0 838.0,814.7 835.0,813.2 836.9,809.1 830.4,807.8 826.7,809.5 825.2,813.2 821.4,811.7 819.2,814.0 815.4,816.2 813.9,819.2 808.7,821.5 802.7,823.5ZM849.3,855.1 854.2,855.3 853.8,859.2 851.5,860.3 849.3,857.3ZM891.0,844.0 893.7,846.6 896.0,849.2 899.8,849.6 897.5,852.8 894.5,856.4 893.7,853.3 892.7,852.2 893.7,848.3ZM891.0,854.6 893.4,856.7 891.5,860.7 888.5,862.0 885.4,866.0 881.7,864.8 884.4,861.0 889.2,856.9ZM508.0,760.9 512.4,759.2 519.7,760.8 523.8,763.3 518.9,763.7 515.3,761.3ZM523.3,765.7 525.8,763.7 532.1,765.6 528.5,766.8ZM710.1,678.7 716.0,674.3 722.0,668.6 733.9,666.7 724.9,672.1 717.5,679.8ZM649.2,662.6 658.1,657.6 672.9,658.8 665.5,665.1 655.1,666.3ZM844.7,725.2 847.0,719.5 846.2,712.0 844.7,713.7 844.7,722.0ZM769.7,661.4 781.7,656.3 789.2,660.1 778.7,663.8ZM835.7,670.9 841.7,668.6 856.8,669.8 849.3,672.1Z"/><path fill="#fafbfc" d="M702.6,727.5 705.6,724.4 711.5,724.4 711.5,728.3 708.6,731.4 711.5,734.5 713.0,738.3 707.1,739.0 705.6,736.8 706.3,733.7 703.4,730.6ZM674.4,732.2 674.4,729.1 677.4,725.9 681.8,725.2 685.5,726.4 689.2,723.6 691.5,728.3 694.4,732.2 686.3,732.2 681.8,731.4 677.4,732.7Z"/><circle cx="472" cy="724" r="32" fill="url(#glow)" opacity="0.75"/><circle cx="790" cy="733" r="30" fill="url(#glow)" opacity="0.8"/><circle cx="820" cy="728" r="16" fill="url(#glow)" opacity="0.6"/><ellipse cx="477" cy="735" rx="6" ry="5" fill="url(#redglow)" opacity="0.9"/><ellipse cx="491.4" cy="738" rx="5" ry="6" fill="url(#redglow)" opacity="0.9"/><ellipse cx="833" cy="738" rx="7" ry="11" fill="url(#redglow)" opacity="0.8"/><ellipse cx="800" cy="714" rx="7" ry="4" fill="url(#redglow)" opacity="0.8"/><ellipse cx="785" cy="774" rx="6" ry="7" fill="url(#redglow)" opacity="0.7"/><circle cx="506.7" cy="728.3" r="7" fill="url(#yel)" opacity="0.9"/><circle cx="453" cy="714" r="18.7" fill="url(#glow)"/><circle cx="453" cy="714" r="8.5" fill="url(#ball)"/><circle cx="465.6" cy="730.2" r="19.8" fill="url(#glow)"/><circle cx="465.6" cy="730.2" r="9" fill="url(#ball)"/><circle cx="790" cy="735.2" r="28.6" fill="url(#glow)"/><circle cx="790" cy="735.2" r="13" fill="url(#ball)"/><circle cx="754.5" cy="738" r="4" fill="url(#yel)" opacity="0.9"/></g>
<path d="M716.5 820 V898" stroke="#dde2e9" stroke-width="1"/>
</svg>

<!-- top countries box -->
<div class="a" style="left:382px;top:780px;width:131px;height:124px;background:rgba(244,246,249,0.92);border-left:1px solid #e3e7ee;border-top:1px solid #e8ebf0"></div>
<svg class="a" style="left:0;top:0" width="1536" height="1024" viewBox="0 0 1536 1024">
<path d="M382 814.5 H502 M382 869 H502" stroke="#e0e4ea" stroke-width="1"/>
<defs><linearGradient id="usaF" x1="0" y1="0" x2="1" y2="0"><stop offset="0" stop-color="#7b47cf"/><stop offset="1" stop-color="#4658cf"/></linearGradient></defs><rect x="393.5" y="822" width="22" height="16" fill="url(#usaF)"/><path d="M399.5 823 Q411 826 400 837.5 Q407 829 399.5 823 Z" fill="#f2f0ff"/>
<rect x="393" y="849" width="23" height="6.5" fill="#0c2a20"/><rect x="393" y="855.5" width="23" height="6.5" fill="#c01818"/>
<rect x="393" y="877" width="23" height="7" fill="#1f5a58"/><rect x="393" y="884" width="23" height="7" fill="#e26a1a"/>
</svg>

<!-- ===== texts ===== -->
<div class="t w" style="left:141px;top:89.3px;font-size:17.6px;font-weight:700">Affiliate Management</div>
<div class="t w m" style="left:139px;top:164.4px;font-size:15.2px">Dashboard</div>
<div class="t w" style="left:139px;top:213.2px;font-size:15.2px;letter-spacing:0.5px">Affiliates</div>
<div class="t w" style="left:138.5px;top:264.1px;font-size:16px">Reports</div>
<div class="t w" style="left:138.5px;top:309.2px;font-size:16px">Payments</div>
<div class="t w" style="left:138.5px;top:357.6px;font-size:16px">Offers</div>
<div class="t w" style="left:138.5px;top:408.8px;font-size:16px">Settings</div>
<div class="t w m" style="left:159px;top:826.5px;font-size:17.8px">John Doe</div>
<div class="t" style="left:159px;top:847.5px;font-size:15.5px;color:#9fb3d1">Admin</div>

<div class="t dk m" style="left:404px;top:90.3px;font-size:19px">Dashboard</div>

<div class="t w" style="left:391px;top:173px;font-size:31px">$24,580</div>
<div class="t w" style="left:391px;top:214.4px;font-size:18px">Total Commissions</div>
<div class="t w" style="left:651px;top:173px;font-size:31px">1,250</div>
<div class="t w" style="left:651px;top:214.4px;font-size:18px">Active Affiliates</div>
<div class="t w" style="left:902px;top:174px;font-size:31px">5.2<span style="font-size:27px">%</span></div>
<div class="t w" style="left:902px;top:215.4px;font-size:18px">Conversion Rate</div>
<div class="t w" style="left:1159px;top:174px;font-size:31px">12.8<span style="font-size:27px">%</span></div>
<div class="t w" style="left:1159px;top:215px;font-size:18.4px">Click-Through Rate</div>

<div class="t dk m2" style="left:384px;top:292px;font-size:21.3px">Affiliate Performance</div>
<div class="t" style="left:388px;top:334px;font-size:11px;color:#3b4556">1,500</div>
<div class="t" style="left:388px;top:377px;font-size:11px;color:#3b4556">1,900</div>
<div class="t" style="left:397px;top:421px;font-size:11px;color:#3b4556">600</div>
<div class="t" style="left:403px;top:464px;font-size:11px;color:#3b4556">00</div>
<div class="t" style="left:408px;top:507px;font-size:11px;color:#3b4556">0</div>
<div class="t" style="left:439px;top:527.5px;font-size:13.5px;color:#26303f">Jan 10</div>
<div class="t" style="left:516.5px;top:527.5px;font-size:13.5px;color:#26303f">Jan 10</div>
<div class="t" style="left:594px;top:527.5px;font-size:13.5px;color:#26303f">Jan 13</div>
<div class="t" style="left:672px;top:527.5px;font-size:13.5px;color:#26303f">Jan 14</div>
<div class="t" style="left:749px;top:527.5px;font-size:13.5px;color:#26303f">Jan 15</div>
<div class="t" style="left:827px;top:527.5px;font-size:13.5px;color:#26303f">Jan 16</div>
<div class="t" style="left:538px;top:555.5px;font-size:13px;color:#26303f">Clicks</div>
<div class="t" style="left:628px;top:555.5px;font-size:13px;color:#26303f">Conversions</div>

<div class="t dk m" style="left:976.5px;top:295.4px;font-size:19px">Conversion Rate</div>
<div class="t dk" style="left:979.5px;top:336.1px;font-size:46px">5.2<span style="font-size:34px;margin-left:1px">%</span></div>
<div class="t" style="left:981px;top:396px;font-size:15.5px;color:#2a3a58">This Month</div>
<div class="t" style="left:998px;top:426.6px;font-size:20.5px;color:#3aa83a">+0.8%</div>

<div class="t dk m" style="left:1226.5px;top:295.4px;font-size:19.3px">Total Revenue</div>
<div class="t dk" style="left:1226px;top:352.6px;font-size:42.5px">$58,300</div>
<div class="t" style="left:1229px;top:404.5px;font-size:15.5px;color:#2a3a58">This Month</div>
<div class="t" style="left:1253px;top:433px;font-size:17px;color:#2a3a58">+12%</div>

<div class="t dk m" style="left:973.5px;top:515.6px;font-size:18.8px;letter-spacing:0.4px">Active Partners</div>
<div class="t dk" style="left:1276px;top:840px;font-size:38.5px;letter-spacing:0.3px">1,250</div>
<div class="t dk m" style="left:1279px;top:883.5px;font-size:15.5px">New Today : 14</div>

<div class="t dk m2" style="left:384px;top:617.6px;font-size:20.6px">Affiliate Geo Distribution</div>
<div class="t m" style="left:393px;top:793px;font-size:16px;color:#141824;-webkit-text-stroke:0.2px #141824">Top Countries:</div>
<div class="t" style="left:426px;top:823px;font-size:15.5px;color:#141824">USA</div>
<div class="t" style="left:426px;top:848px;font-size:15.5px;color:#141824">Germany</div>
<div class="t" style="left:426px;top:877px;font-size:15.5px;color:#141824">UK</div>
<div class="t" style="left:592px;top:837.3px;font-size:31px;color:#3aa83a">6.2M</div>
<div class="t" style="left:593px;top:873.5px;font-size:15.2px;color:#15192a">Total Clicks</div>
<div class="t" style="left:736px;top:837.3px;font-size:31px;color:#1f5aa8">84.5K</div>
<div class="t" style="left:736px;top:873.5px;font-size:15px;color:#15192a">Conversions</div>
</body></html>
